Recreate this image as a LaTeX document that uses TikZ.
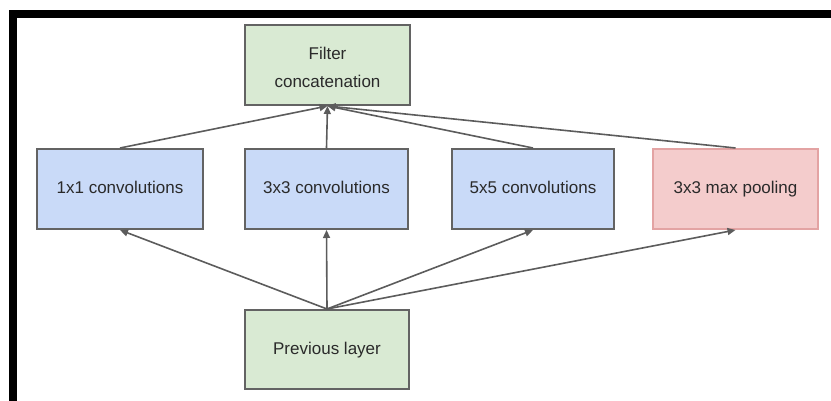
\documentclass[tikz,border=0pt]{standalone}
\usepackage{fontspec}
\setmainfont{Liberation Sans}
\usetikzlibrary{arrows.meta}
\definecolor{boxline}{HTML}{636363}
\definecolor{pinkline}{HTML}{E3A3A3}
\definecolor{greenfill}{HTML}{D9EAD3}
\definecolor{bluefill}{HTML}{C9DAF8}
\definecolor{pinkfill}{HTML}{F4CCCC}
\definecolor{txt}{HTML}{2A2A2A}
\definecolor{edge}{HTML}{5C5C5C}
\tikzset{
  layerbox/.style={draw=boxline, line width=2pt, inner sep=0pt, text=txt,
    align=center, font=\fontsize{17}{28}\selectfont},
  oneline/.style={text height=12.5pt, text depth=3.5pt},
  greenbox/.style={layerbox, fill=greenfill},
  bluebox/.style={layerbox, oneline, fill=bluefill},
  pinkbox/.style={layerbox, oneline, fill=pinkfill, draw=pinkline},
  flow/.style={draw=edge, line width=1.6pt,
    -{Triangle[length=8pt,width=7pt]}}
}
\begin{document}
\begin{tikzpicture}[x=1pt,y=-1pt]
  \useasboundingbox (0,0) rectangle (831,401);
  % frame bars along the top and left edges
  \fill[black] (9,10) rectangle (831,18);
  \fill[black] (9,10) rectangle (17,401);

  \node[greenbox, minimum width=165pt, minimum height=80pt] (concat) at (327.5,65) {\rule{0pt}{18pt}Filter\\concatenation};
  \node[bluebox, minimum width=166pt, minimum height=80pt] (c1) at (120,189) {1x1 convolutions};
  \node[bluebox, minimum width=163pt, minimum height=80pt] (c3) at (326.5,189) {3x3 convolutions};
  \node[bluebox, minimum width=162pt, minimum height=80pt] (c5) at (533,189) {5x5 convolutions};
  \node[pinkbox, minimum width=165pt, minimum height=80pt] (mp) at (735.5,189) {3x3 max pooling};
  \node[greenbox, oneline, minimum width=164pt, minimum height=79pt] (prev) at (327,349.5) {Previous layer};

  % previous layer feeds every branch
  \foreach \b in {c1,c3,c5,mp}
    \draw[flow] (prev.north) -- (\b.south);
  % every branch is concatenated
  \foreach \b in {c1,c3,c5,mp}
    \draw[flow] (\b.north) -- (concat.south);
\end{tikzpicture}
\end{document}
